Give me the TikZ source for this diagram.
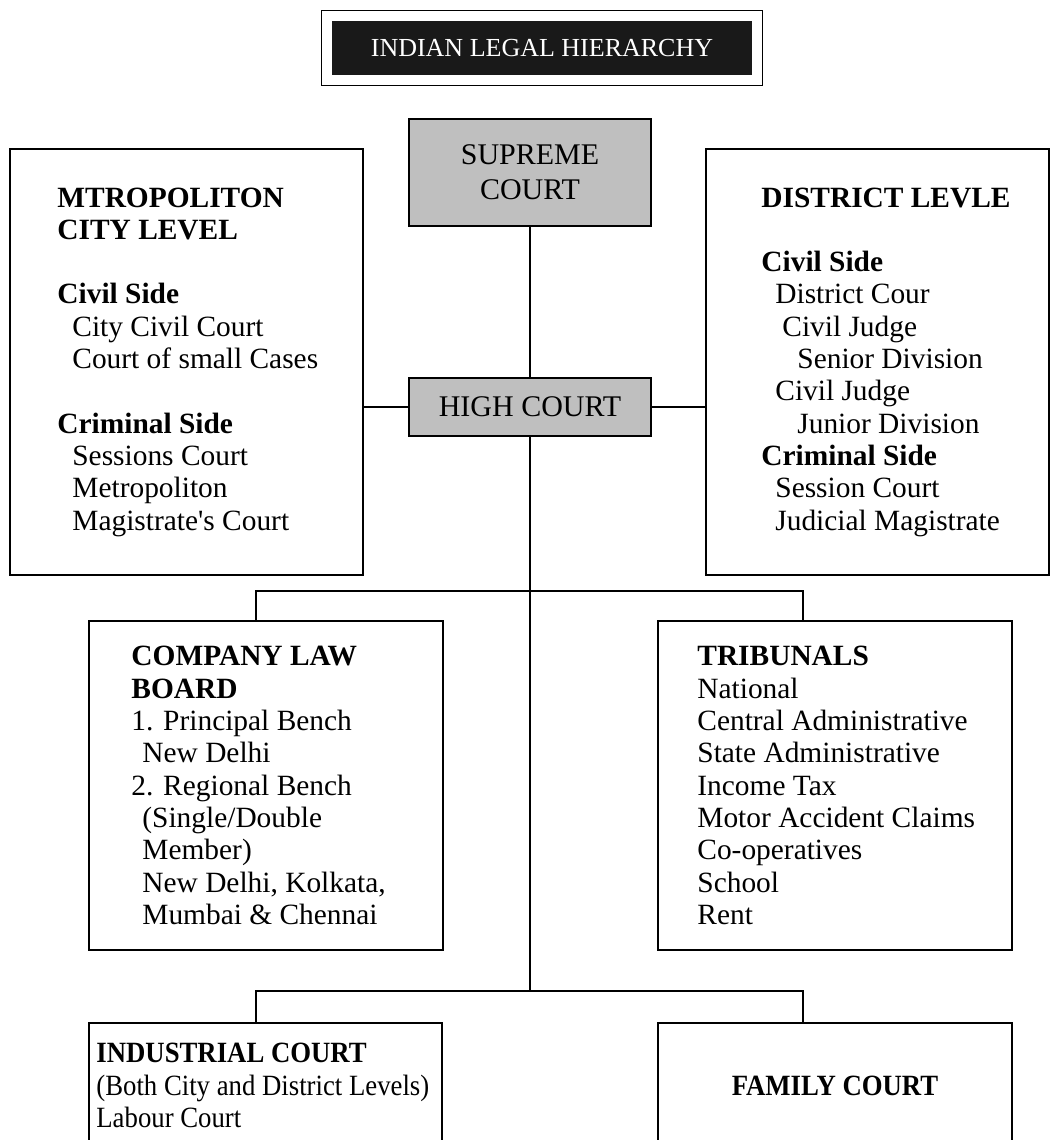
\documentclass[tikz,border=0pt]{standalone}
\usepackage{fontspec}
\setmainfont{Liberation Serif}
\newfontfamily\narrowfont[FakeStretch=0.91]{Liberation Serif}
\usetikzlibrary{positioning}

\tikzset{
  box/.style={draw, line width=1pt, inner sep=0pt},
  court/.style={box, fill=black!25, align=center, font=\fontsize{15}{17.5}\selectfont},
  info/.style={inner sep=0pt, align=left, font=\fontsize{14.7}{16.15}\selectfont},
  link/.style={line width=1pt},
}

\begin{document}
\begin{tikzpicture}[x=0.5pt, y=-0.5pt]
\clip (0,0) rectangle (1051,1140);

% title
\node[fill=black!90, text=white, minimum width=210pt, minimum height=27pt, inner sep=0pt, font=\fontsize{13}{15}\selectfont] (title) at (542,48) {INDIAN LEGAL HIERARCHY};
\draw[line width=0.8pt] ([shift={(-10,-10)}]title.north west) rectangle ([shift={(10,10)}]title.south east);

% courts
\node[court, minimum width=121pt, minimum height=53.5pt] (sc) at (530,172.5) {SUPREME\\COURT};
\node[court, minimum width=121pt, minimum height=29pt] (hc) at (530,407) {HIGH COURT};

% city and district levels
\node[box, minimum width=176.5pt, minimum height=213pt] (mcl) at (186.5,362) {};
\node[info, right=24pt of mcl.west] (mcl text) {\textbf{MTROPOLITON}\\
  \textbf{CITY LEVEL}\\[16.15pt]
  \textbf{Civil Side}\\
  \hspace*{7.5pt}City Civil Court\\
  \hspace*{7.5pt}Court of small Cases\\[16.15pt]
  \textbf{Criminal Side}\\
  \hspace*{7.5pt}Sessions Court\\
  \hspace*{7.5pt}Metropoliton\\
  \hspace*{7.5pt}Magistrate\textquotesingle s Court};

\node[box, minimum width=171.5pt, minimum height=213pt] (dl) at (877.5,362) {};
\node[info, right=28pt of dl.west] (dl text) {\textbf{DISTRICT LEVLE}\\[16.15pt]
  \textbf{Civil Side}\\
  \hspace*{7pt}District Cour\\
  \hspace*{10.5pt}Civil Judge\\
  \hspace*{18pt}Senior Division\\
  \hspace*{7pt}Civil Judge\\
  \hspace*{18pt}Junior Division\\
  \textbf{Criminal Side}\\
  \hspace*{7pt}Session Court\\
  \hspace*{7pt}Judicial Magistrate};

% boards and tribunals
\node[box, minimum width=177pt, minimum height=164.5pt] (clb) at (266,785.5) {};
\node[info, right=21.5pt of clb.west] (clb text) {\textbf{COMPANY LAW}\\
  \textbf{BOARD}\\
  1. Principal Bench\\
  \hspace*{5.5pt}New Delhi\\
  2. Regional Bench\\
  \hspace*{5.5pt}(Single/Double\\
  \hspace*{5.5pt}Member)\\
  \hspace*{5.5pt}New Delhi, Kolkata,\\
  \hspace*{5.5pt}Mumbai \& Chennai};

\node[box, minimum width=177pt, minimum height=164.5pt] (trib) at (835,785.5) {};
\node[info, right=20pt of trib.west] (trib text) {\textbf{TRIBUNALS}\\
  National\\
  Central Administrative\\
  State Administrative\\
  Income Tax\\
  Motor Accident Claims\\
  Co-operatives\\
  School\\
  Rent};

% lower courts
\node[box, minimum width=176.5pt, minimum height=62.5pt] (ind) at (265.5,1085.5) {};
\node[info, right=4pt of ind.west, font=\narrowfont\fontsize{14.7}{16.15}\selectfont] (ind text) {\textbf{INDUSTRIAL COURT}\\
  (Both City and District Levels)\\
  Labour Court};

\node[box, minimum width=177pt, minimum height=62.5pt, font=\narrowfont\fontsize{14.7}{16.15}\selectfont] (fam) at (835,1085.5) {\textbf{FAMILY COURT}};

% connectors
\draw[link] (sc) -- (hc);
\draw[link] (hc.west) -- (hc.west -| mcl.east);
\draw[link] (hc.east) -- (hc.east -| dl.west);
\coordinate (trunk end) at (530,991);
\draw[link] (hc.south) -- (trunk end);

\coordinate (fork1 l) at (256,591);
\coordinate (fork1 r) at (803,591);
\draw[link] (fork1 l |- clb.north) -- (fork1 l) -- (fork1 r) -- (fork1 r |- trib.north);

\coordinate (fork2 l) at (256,991);
\coordinate (fork2 r) at (803,991);
\draw[link] (fork2 l |- ind.north) -- (fork2 l) -- (fork2 r) -- (fork2 r |- fam.north);

\end{tikzpicture}
\end{document}
